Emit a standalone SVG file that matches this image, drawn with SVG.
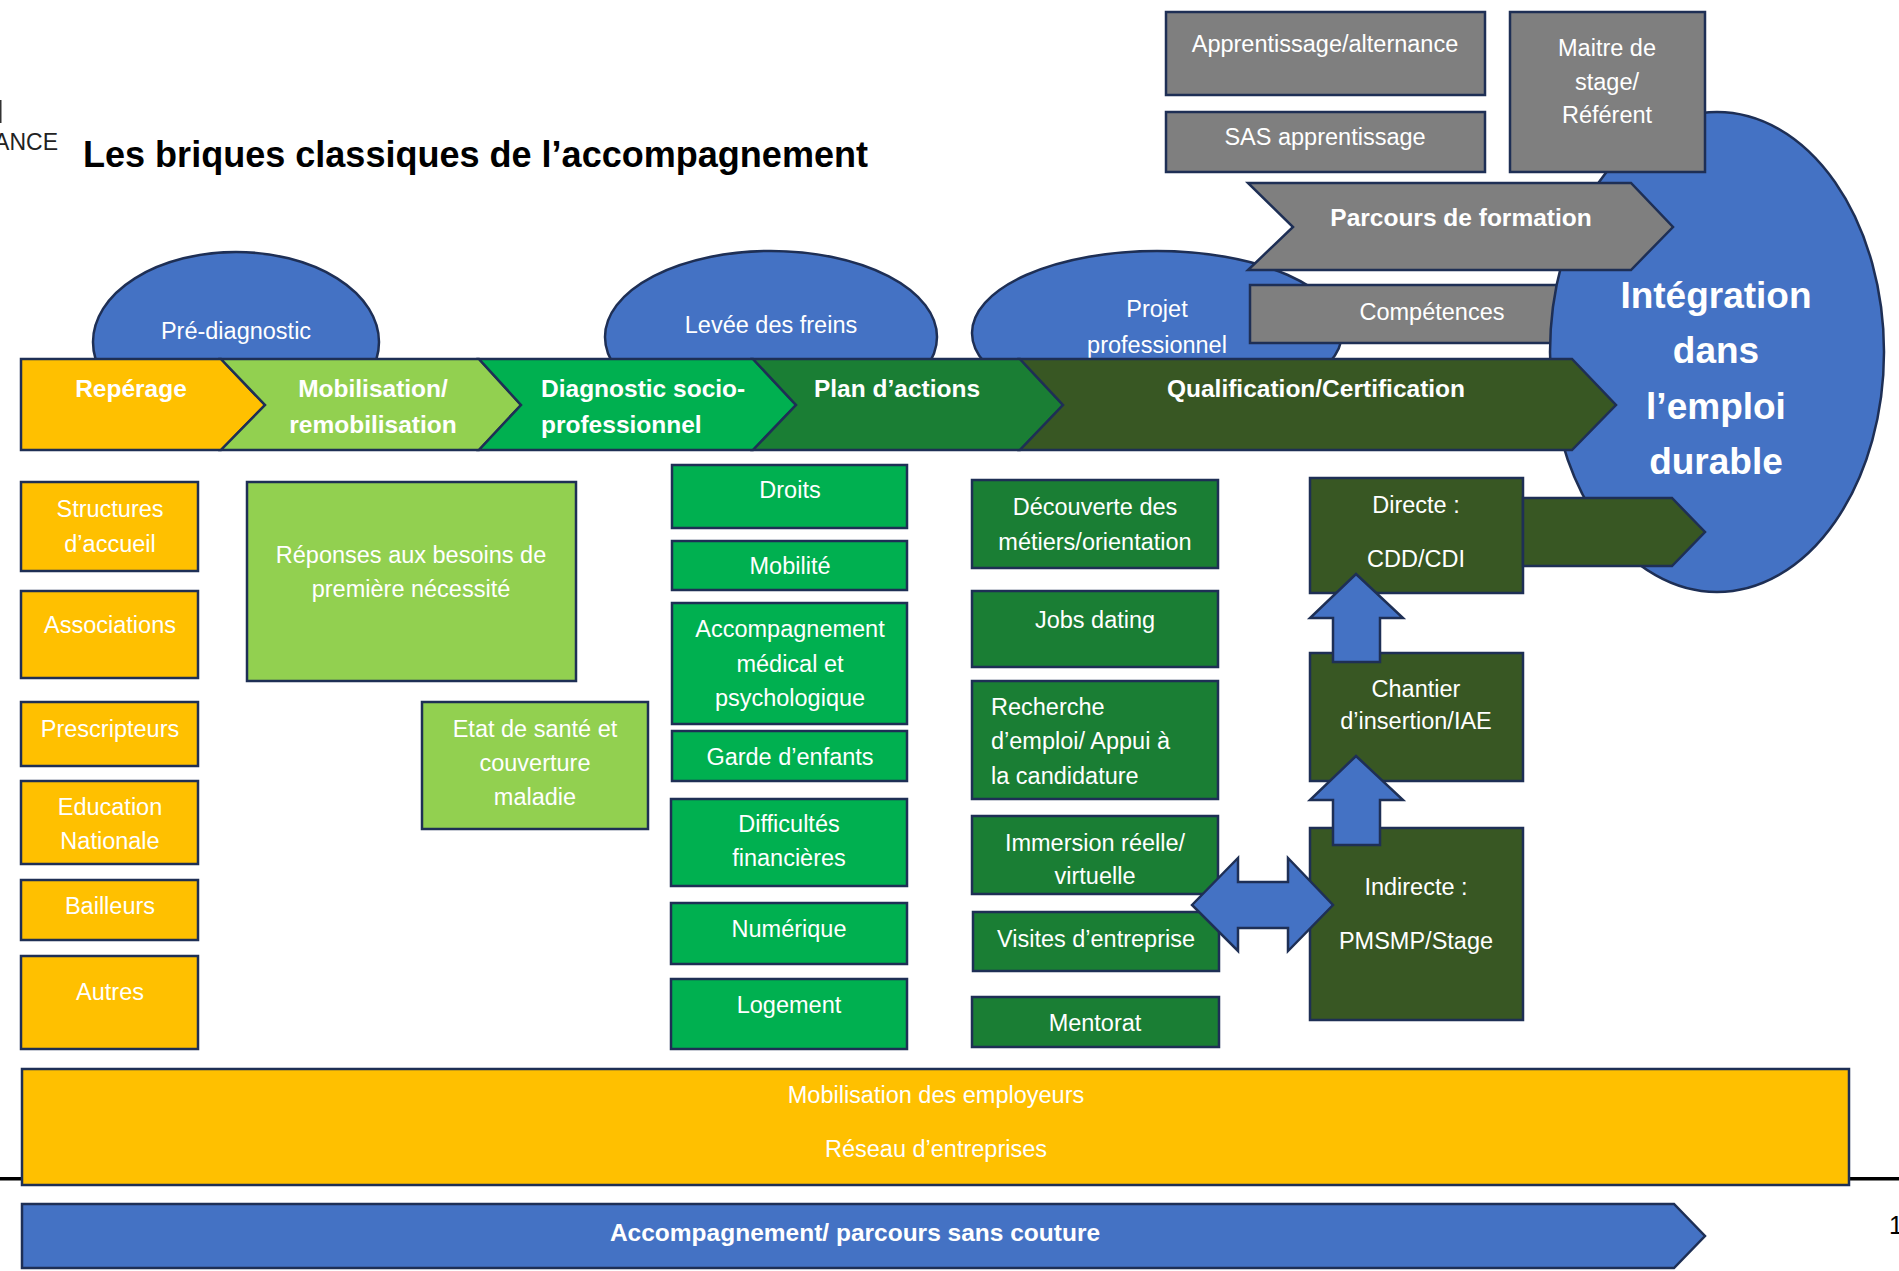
<svg xmlns="http://www.w3.org/2000/svg" width="1899" height="1271" viewBox="0 0 1899 1271">
  <style>
    .ol { stroke: #1e2f55; stroke-width: 2.5; stroke-linejoin: miter; }
    .yel { fill: #ffc000; }
    .lgr { fill: #92d050; }
    .grn { fill: #00b050; }
    .dgr { fill: #1a7e34; }
    .xgr { fill: #385723; }
    .gry { fill: #7f7f7f; }
    .blu { fill: #4472c4; }
    text { font-family: "Liberation Sans", Arial, sans-serif; fill: #ffffff; }
    .lbl { font-size: 23.5px; text-anchor: middle; }
    .lbll { font-size: 23.5px; text-anchor: start; }
    .bold { font-size: 24.5px; font-weight: bold; text-anchor: middle; }
    .big { font-size: 37px; font-weight: bold; text-anchor: middle; }
  </style>

  <rect x="0" y="0" width="1899" height="1271" fill="#ffffff"/>

  <!-- page furniture -->
  <rect x="0" y="1177" width="1899" height="3.5" fill="#000000"/>
  <rect x="0" y="100" width="1.5" height="23" fill="#333333"/>
  <text x="58" y="150" font-size="23" text-anchor="end" style="fill:#222222">ANCE</text>
  <text x="1889" y="1234" font-size="25" style="fill:#000000">1</text>
  <text x="83" y="167" font-size="36" font-weight="bold" textLength="785" lengthAdjust="spacingAndGlyphs" style="fill:#000000">Les briques classiques de l’accompagnement</text>

  <!-- phase bubbles above the timeline -->
  <g id="pre-diagnostic">
    <ellipse class="blu ol" cx="236" cy="342" rx="143" ry="90"/>
    <text class="lbl" x="236" y="339">Pré-diagnostic</text>
  </g>
  <g id="levee-freins">
    <ellipse class="blu ol" cx="771" cy="337" rx="166" ry="86"/>
    <text class="lbl" x="771" y="333">Levée des freins</text>
  </g>
  <g id="projet-pro">
    <ellipse class="blu ol" cx="1157" cy="333" rx="185" ry="82"/>
    <text class="lbl" x="1157" y="317">Projet</text>
    <text class="lbl" x="1157" y="353">professionnel</text>
  </g>
  <g id="competences">
    <rect class="gry ol" x="1250" y="285" width="320" height="58"/>
    <text class="lbl" x="1432" y="320">Compétences</text>
  </g>

  <!-- goal -->
  <g id="integration">
    <ellipse class="blu ol" cx="1717" cy="352" rx="167" ry="240"/>
    <text class="big" x="1716" y="308">Intégration</text>
    <text class="big" x="1716" y="363">dans</text>
    <text class="big" x="1716" y="419">l’emploi</text>
    <text class="big" x="1716" y="474">durable</text>
  </g>

  <!-- training track -->
  <g id="parcours-formation">
    <polygon class="gry ol" points="1248,183 1631,183 1673,227 1631,270 1248,270 1293,227"/>
    <text class="bold" x="1461" y="226">Parcours de formation</text>
  </g>
  <g id="apprentissage">
    <rect class="gry ol" x="1166" y="12" width="319" height="83"/>
    <text class="lbl" x="1325" y="52">Apprentissage/alternance</text>
  </g>
  <g id="sas-apprentissage">
    <rect class="gry ol" x="1166" y="112" width="319" height="60"/>
    <text class="lbl" x="1325" y="145">SAS apprentissage</text>
  </g>
  <g id="maitre-stage">
    <rect class="gry ol" x="1510" y="12" width="195" height="160"/>
    <text class="lbl" x="1607" y="56">Maitre de</text>
    <text class="lbl" x="1607" y="90">stage/</text>
    <text class="lbl" x="1607" y="123">Référent</text>
  </g>

  <!-- main timeline -->
  <g id="reperage">
    <polygon class="yel ol" points="21,359 221,359 265,405 221,450 21,450"/>
    <text class="bold" x="131" y="397">Repérage</text>
  </g>
  <g id="mobilisation">
    <polygon class="lgr ol" points="221,359 479,359 521,405 479,450 221,450 265,405"/>
    <text class="bold" x="373" y="397">Mobilisation/</text>
    <text class="bold" x="373" y="433">remobilisation</text>
  </g>
  <g id="diagnostic">
    <polygon class="grn ol" points="479,359 753,359 796,405 753,450 479,450 521,405"/>
    <text class="bold" x="541" y="397" style="text-anchor:start">Diagnostic socio-</text>
    <text class="bold" x="541" y="433" style="text-anchor:start">professionnel</text>
  </g>
  <g id="plan-actions">
    <polygon class="dgr ol" points="753,359 1020,359 1063,405 1020,450 753,450 796,405"/>
    <text class="bold" x="897" y="397">Plan d’actions</text>
  </g>
  <g id="qualification">
    <polygon class="xgr ol" points="1020,359 1572,359 1616,405 1572,450 1020,450 1063,405"/>
    <text class="bold" x="1316" y="397">Qualification/Certification</text>
  </g>

  <!-- entry points -->
  <g id="structures-accueil">
    <rect class="yel ol" x="21" y="482" width="177" height="89"/>
    <text class="lbl" x="110" y="517">Structures</text>
    <text class="lbl" x="110" y="552">d’accueil</text>
  </g>
  <g id="associations">
    <rect class="yel ol" x="21" y="591" width="177" height="87"/>
    <text class="lbl" x="110" y="633">Associations</text>
  </g>
  <g id="prescripteurs">
    <rect class="yel ol" x="21" y="702" width="177" height="64"/>
    <text class="lbl" x="110" y="737">Prescripteurs</text>
  </g>
  <g id="education-nationale">
    <rect class="yel ol" x="21" y="781" width="177" height="83"/>
    <text class="lbl" x="110" y="815">Education</text>
    <text class="lbl" x="110" y="849">Nationale</text>
  </g>
  <g id="bailleurs">
    <rect class="yel ol" x="21" y="880" width="177" height="60"/>
    <text class="lbl" x="110" y="914">Bailleurs</text>
  </g>
  <g id="autres">
    <rect class="yel ol" x="21" y="956" width="177" height="93"/>
    <text class="lbl" x="110" y="1000">Autres</text>
  </g>

  <!-- remobilisation -->
  <g id="besoins">
    <rect class="lgr ol" x="247" y="482" width="329" height="199"/>
    <text class="lbl" x="411" y="563">Réponses aux besoins de</text>
    <text class="lbl" x="411" y="597">première nécessité</text>
  </g>
  <g id="sante">
    <rect class="lgr ol" x="422" y="702" width="226" height="127"/>
    <text class="lbl" x="535" y="737">Etat de santé et</text>
    <text class="lbl" x="535" y="771">couverture</text>
    <text class="lbl" x="535" y="805">maladie</text>
  </g>

  <!-- barriers -->
  <g id="droits">
    <rect class="grn ol" x="672" y="465" width="235" height="63"/>
    <text class="lbl" x="790" y="498">Droits</text>
  </g>
  <g id="mobilite">
    <rect class="grn ol" x="672" y="541" width="235" height="49"/>
    <text class="lbl" x="790" y="574">Mobilité</text>
  </g>
  <g id="medical">
    <rect class="grn ol" x="672" y="603" width="235" height="121"/>
    <text class="lbl" x="790" y="637">Accompagnement</text>
    <text class="lbl" x="790" y="672">médical et</text>
    <text class="lbl" x="790" y="706">psychologique</text>
  </g>
  <g id="garde-enfants">
    <rect class="grn ol" x="672" y="731" width="235" height="50"/>
    <text class="lbl" x="790" y="765">Garde d’enfants</text>
  </g>
  <g id="financieres">
    <rect class="grn ol" x="671" y="799" width="236" height="87"/>
    <text class="lbl" x="789" y="832">Difficultés</text>
    <text class="lbl" x="789" y="866">financières</text>
  </g>
  <g id="numerique">
    <rect class="grn ol" x="671" y="903" width="236" height="61"/>
    <text class="lbl" x="789" y="937">Numérique</text>
  </g>
  <g id="logement">
    <rect class="grn ol" x="671" y="979" width="236" height="70"/>
    <text class="lbl" x="789" y="1013">Logement</text>
  </g>

  <!-- action plan -->
  <g id="decouverte">
    <rect class="dgr ol" x="972" y="480" width="246" height="88"/>
    <text class="lbl" x="1095" y="515">Découverte des</text>
    <text class="lbl" x="1095" y="550">métiers/orientation</text>
  </g>
  <g id="jobs-dating">
    <rect class="dgr ol" x="972" y="591" width="246" height="76"/>
    <text class="lbl" x="1095" y="628">Jobs dating</text>
  </g>
  <g id="recherche">
    <rect class="dgr ol" x="972" y="681" width="246" height="118"/>
    <text class="lbll" x="991" y="715">Recherche</text>
    <text class="lbll" x="991" y="749">d’emploi/ Appui à</text>
    <text class="lbll" x="991" y="784">la candidature</text>
  </g>
  <g id="immersion">
    <rect class="dgr ol" x="972" y="816" width="246" height="78"/>
    <text class="lbl" x="1095" y="851">Immersion réelle/</text>
    <text class="lbl" x="1095" y="884">virtuelle</text>
  </g>
  <g id="visites">
    <rect class="dgr ol" x="973" y="912" width="246" height="59"/>
    <text class="lbl" x="1096" y="947">Visites d’entreprise</text>
  </g>
  <g id="mentorat">
    <rect class="dgr ol" x="972" y="997" width="247" height="50"/>
    <text class="lbl" x="1095" y="1031">Mentorat</text>
  </g>

  <!-- employment outcomes -->
  <g id="directe">
    <rect class="xgr ol" x="1310" y="478" width="213" height="115"/>
    <text class="lbl" x="1416" y="513">Directe :</text>
    <text class="lbl" x="1416" y="567">CDD/CDI</text>
  </g>
  <g id="chantier">
    <rect class="xgr ol" x="1310" y="653" width="213" height="128"/>
    <text class="lbl" x="1416" y="697">Chantier</text>
    <text class="lbl" x="1416" y="729">d’insertion/IAE</text>
  </g>
  <g id="indirecte">
    <rect class="xgr ol" x="1310" y="828" width="213" height="192"/>
    <text class="lbl" x="1416" y="895">Indirecte :</text>
    <text class="lbl" x="1416" y="949">PMSMP/Stage</text>
  </g>

  <!-- transversal bands -->
  <g id="employeurs">
    <rect class="yel ol" x="22" y="1069" width="1827" height="116"/>
    <text class="lbl" x="936" y="1103">Mobilisation des employeurs</text>
    <text class="lbl" x="936" y="1157">Réseau d’entreprises</text>
  </g>
  <g id="sans-couture">
    <polygon class="blu ol" points="22,1204 1674,1204 1705,1236 1674,1268 22,1268"/>
    <text class="bold" x="855" y="1241">Accompagnement/ parcours sans couture</text>
  </g>

  <!-- connectors -->
  <g id="connectors">
    <polygon class="xgr ol" points="1523,498 1672,498 1705,532 1672,566 1523,566"/>
    <polygon class="blu ol" points="1356,574 1403,618 1380,618 1380,662 1333,662 1333,618 1310,618"/>
    <polygon class="blu ol" points="1356,756 1403,800 1380,800 1380,845 1333,845 1333,800 1310,800"/>
    <polygon class="blu ol" points="1192,905 1238,858 1238,882 1288,882 1288,858 1333,905 1288,951 1288,928 1238,928 1238,951"/>
  </g>
</svg>
